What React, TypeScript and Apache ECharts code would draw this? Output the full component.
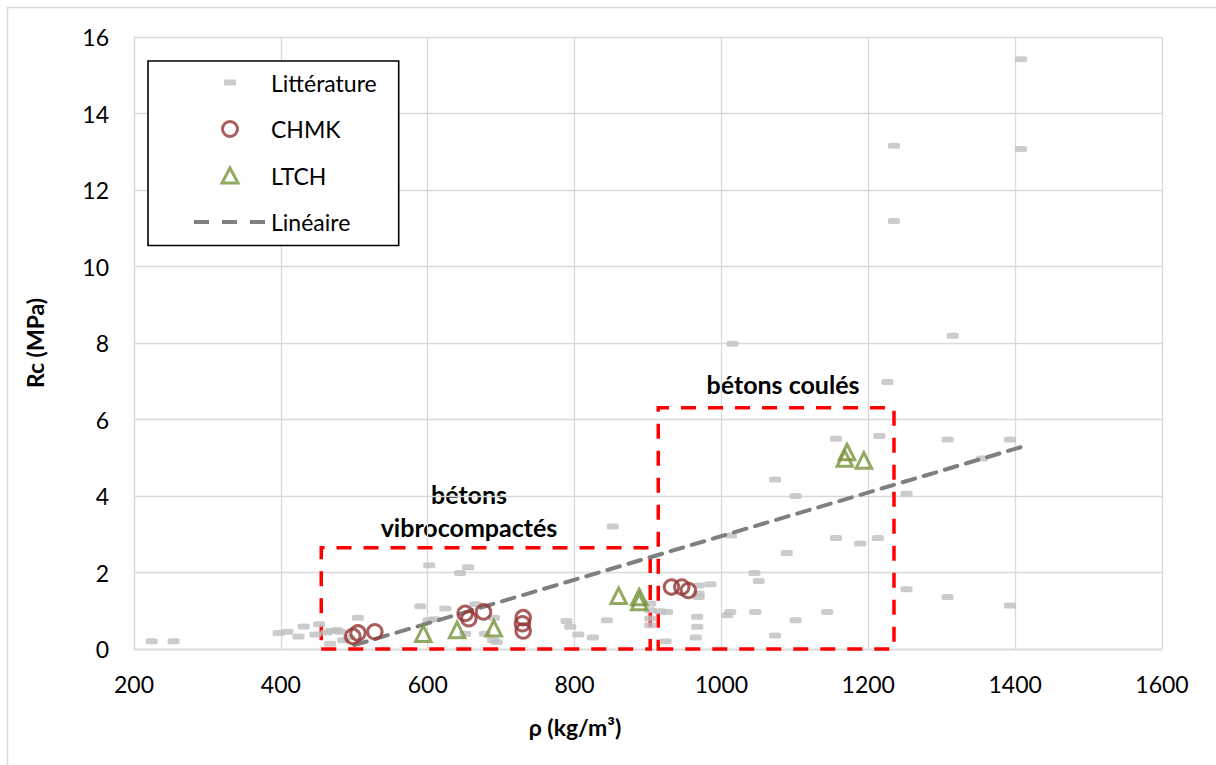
import React, { useEffect, useRef } from "react";
import * as echarts from "echarts";

const xRange = [200, 1600];
const yRange = [0, 16];

const literature: [number, number][] = [
  [224, 0.2], [254, 0.2],
  [397, 0.42], [409, 0.45], [424, 0.33], [431, 0.59], [447, 0.38], [452, 0.65],
  [462, 0.43], [468, 0.47], [476, 0.5], [481, 0.45], [467, 0.14], [485, 0.23],
  [505, 0.82], [493, 0.3],
  [590, 1.12], [601, 0.75], [609, 0.78], [602, 2.19], [624, 1.06], [644, 1.99],
  [655, 2.14], [651, 0.4], [665, 1.17], [678, 0.4], [690, 0.82], [689, 0.23], [694, 0.18],
  [789, 0.73], [794, 0.58], [805, 0.38], [825, 0.3], [844, 0.75], [852, 3.2],
  [903, 1.19], [903, 1.01], [903, 0.62], [903, 0.8], [917, 0.99], [926, 0.97], [924, 0.2],
  [969, 1.66], [969, 1.45], [969, 1.36], [985, 1.69], [967, 0.84], [967, 0.58], [965, 0.3],
  [1012, 0.97], [1008, 0.88], [1046, 0.97], [1045, 1.99], [1051, 1.78], [1089, 2.51],
  [1101, 0.75], [1073, 0.35], [1144, 0.97], [1013, 2.97], [1015, 7.98], [1073, 4.43],
  [1101, 4.0], [1156, 5.5], [1156, 2.9], [1189, 2.76], [1213, 2.9], [1215, 5.57],
  [1226, 6.98], [1235, 13.16], [1235, 11.19], [1252, 4.06], [1252, 1.56], [1308, 5.48],
  [1308, 1.36], [1315, 8.19], [1355, 4.98], [1393, 5.48], [1393, 1.14], [1408, 15.42],
  [1408, 13.07],
];

const chmk: [number, number][] = [
  [498, 0.33], [505, 0.42], [528, 0.45], [651, 0.93], [656, 0.79], [676, 0.97],
  [730, 0.82], [729, 0.66], [730, 0.47], [932, 1.62], [946, 1.62], [955, 1.53],
];

const ltch: [number, number][] = [
  [594, 0.4], [640, 0.5], [690, 0.54], [860, 1.39], [888, 1.36], [888, 1.23],
  [1171, 5.15], [1168, 4.98], [1194, 4.93],
];

const trend: [number, number][] = [[500, 0.1], [1410, 5.29]];

// [xMin, yMin, xMax, yMax]
const boxes: [number, number, number, number][] = [
  [455, 0, 903, 2.65],
  [914, 0, 1235, 6.31],
];

const FONT = "Lato";

export default function App() {
  const ref = useRef<HTMLDivElement>(null);
  useEffect(() => {
    const chart = echarts.init(ref.current!, null, { renderer: "svg" });
    chart.setOption({
      animation: false,
      backgroundColor: "#ffffff",
      textStyle: { fontFamily: FONT },
      grid: { left: 134, top: 37, width: 1028, height: 612, containLabel: false },
      xAxis: {
        type: "value",
        min: xRange[0],
        max: xRange[1],
        interval: 200,
        name: "ρ (kg/m³)",
        nameLocation: "middle",
        nameGap: 66,
        nameTextStyle: {
          fontFamily: FONT,
          fontSize: 23,
          fontWeight: "bold",
          color: "#000",
          padding: [0, 146, 0, 0],
        },
        axisLine: { show: true, lineStyle: { color: "#D9D9D9", width: 1.3 } },
        axisTick: { show: false },
        axisLabel: {
          fontFamily: FONT,
          fontSize: 23,
          color: "#000",
          margin: 23,
          formatter: (v: number) => String(v),
        },
        splitLine: { show: true, lineStyle: { color: "#D9D9D9", width: 1.3 } },
      },
      yAxis: {
        type: "value",
        min: yRange[0],
        max: yRange[1],
        interval: 2,
        name: "Rc (MPa)",
        nameLocation: "middle",
        nameGap: 88,
        nameTextStyle: { fontFamily: FONT, fontSize: 23, fontWeight: "bold", color: "#000" },
        axisLine: { show: true, lineStyle: { color: "#D9D9D9", width: 1.3 } },
        axisTick: { show: false },
        axisLabel: { fontFamily: FONT, fontSize: 23, color: "#000", margin: 25 },
        splitLine: { show: true, lineStyle: { color: "#D9D9D9", width: 1.3 } },
      },
      legend: {
        orient: "vertical",
        left: 148,
        top: 61,
        padding: [10, 22, 12, 44],
        itemWidth: 72,
        itemHeight: 16,
        itemGap: 23.5,
        borderColor: "#000",
        borderWidth: 1.6,
        backgroundColor: "#fff",
        textStyle: { fontFamily: FONT, fontSize: 23, color: "#000" },
        data: [
          { name: "Littérature", icon: "path://M0,0M72,16M30,5h12v6h-12z" },
          {
            name: "CHMK",
            icon: "path://M0,0M72,16M28.5,8A7.5,7.5,0,1,1,43.5,8A7.5,7.5,0,1,1,28.5,8Z",
            itemStyle: { color: "rgba(0,0,0,0)", borderColor: "#943634", borderWidth: 3 },
          },
          {
            name: "LTCH",
            icon: "path://M0,0M72,16M36,0.5L44,15.5L28,15.5Z",
            itemStyle: { color: "rgba(0,0,0,0)", borderColor: "#77933C", borderWidth: 3 },
          },
          {
            name: "Linéaire",
            itemStyle: { color: "rgba(0,0,0,0)", borderColor: "rgba(0,0,0,0)", borderWidth: 0 },
            lineStyle: { color: "#7F7F7F", width: 4, type: [15, 13], cap: "butt" },
          },
        ],
      },
      graphic: [
        {
          type: "rect",
          silent: true,
          z: -10,
          shape: { x: 7.5, y: 7.5, width: 1230, height: 780 },
          style: { fill: "none", stroke: "#D9D9D9", lineWidth: 1.5 },
        },
        {
          type: "text",
          x: 783,
          y: 384,
          style: {
            text: "bétons coulés",
            fontFamily: FONT,
            fontSize: 25,
            fontWeight: "bold",
            fill: "#000",
            align: "center",
            verticalAlign: "middle",
          },
        },
        {
          type: "text",
          x: 469,
          y: 510.5,
          style: {
            text: "bétons\nvibrocompactés",
            fontFamily: FONT,
            fontSize: 25,
            fontWeight: "bold",
            lineHeight: 33,
            fill: "#000",
            align: "center",
            verticalAlign: "middle",
          },
        },
      ],
      series: [
        {
          name: "Littérature",
          type: "scatter",
          data: literature,
          symbol: "roundRect",
          symbolSize: [12, 6],
          itemStyle: { color: "#BFBFBF" },
          z: 2,
          markArea: {
            silent: true,
            itemStyle: {
              color: "rgba(0,0,0,0)",
              borderColor: "#FF0000",
              borderWidth: 3.5,
              borderType: [15, 12],
            },
            data: boxes.map((b) => [{ coord: [b[0], b[1]] }, { coord: [b[2], b[3]] }]),
          },
        },
        {
          name: "Linéaire",
          type: "line",
          data: trend,
          symbol: "none",
          z: 3,
          lineStyle: { color: "#7F7F7F", width: 4, type: [13, 9], cap: "round" },
          itemStyle: { color: "#7F7F7F" },
        },
        {
          name: "CHMK",
          type: "scatter",
          data: chmk,
          symbol: "circle",
          symbolSize: 14.5,
          itemStyle: { color: "rgba(0,0,0,0)", borderColor: "#943634", borderWidth: 3 },
          z: 4,
        },
        {
          name: "LTCH",
          type: "scatter",
          data: ltch,
          symbol: "triangle",
          symbolSize: 15.5,
          itemStyle: { color: "rgba(0,0,0,0)", borderColor: "#77933C", borderWidth: 3 },
          z: 4,
        },
      ],
    });
    return () => chart.dispose();
  }, []);
  return <div ref={ref} style={{ position: "absolute", left: 0, top: 0, width: 1216, height: 765 }} />;
}
